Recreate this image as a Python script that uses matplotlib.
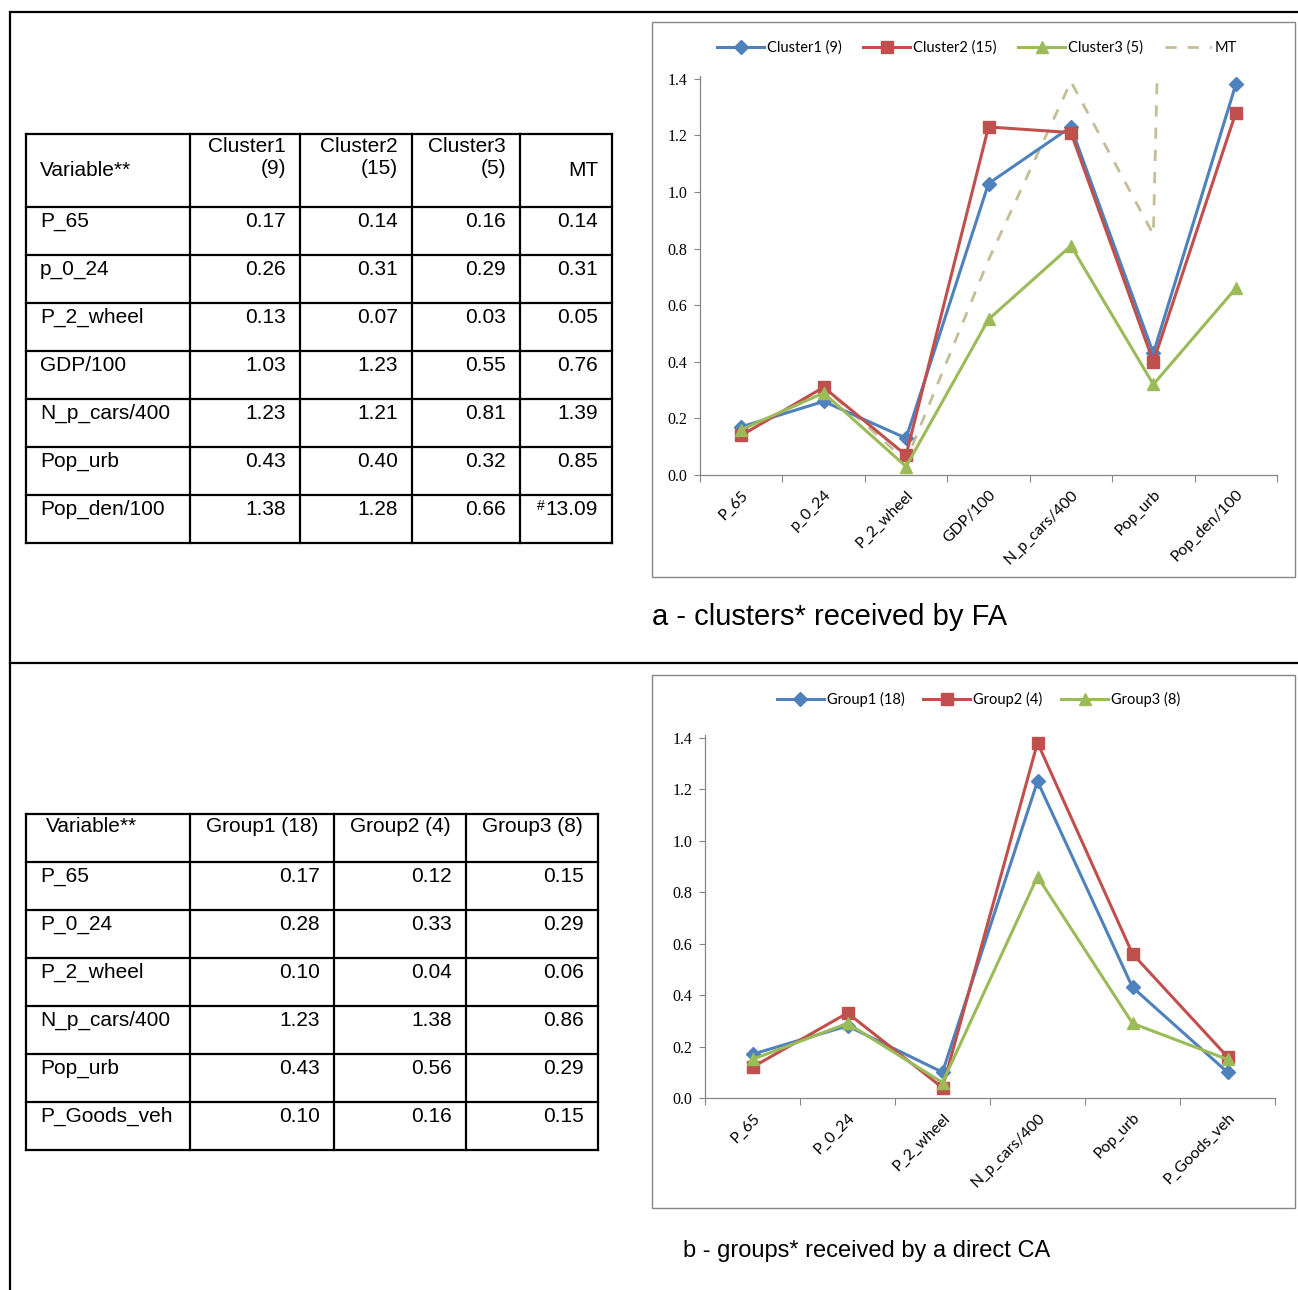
import matplotlib
matplotlib.use("Agg")
import matplotlib.pyplot as plt
from matplotlib.patches import Rectangle
from matplotlib.ticker import FixedLocator, FormatStrFormatter

W, H = 1298, 1290

# ---- data: panel a (clusters from FA) ----
vars_a = ["P_65", "p_0_24", "P_2_wheel", "GDP/100", "N_p_cars/400", "Pop_urb", "Pop_den/100"]
cluster1 = [0.17, 0.26, 0.13, 1.03, 1.23, 0.43, 1.38]
cluster2 = [0.14, 0.31, 0.07, 1.23, 1.21, 0.40, 1.28]
cluster3 = [0.16, 0.29, 0.03, 0.55, 0.81, 0.32, 0.66]
mt = [0.14, 0.31, 0.05, 0.76, 1.39, 0.85, 13.09]
heads_a = ["Cluster1\n(9)", "Cluster2\n(15)", "Cluster3\n(5)", "MT"]
names_a = ["Cluster1 (9)", "Cluster2 (15)", "Cluster3 (5)", "MT"]

# ---- data: panel b (groups from direct CA) ----
vars_b = ["P_65", "P_0_24", "P_2_wheel", "N_p_cars/400", "Pop_urb", "P_Goods_veh"]
group1 = [0.17, 0.28, 0.10, 1.23, 0.43, 0.10]
group2 = [0.12, 0.33, 0.04, 1.38, 0.56, 0.16]
group3 = [0.15, 0.29, 0.06, 0.86, 0.29, 0.15]
heads_b = ["Group1 (18)", "Group2 (4)", "Group3 (8)"]
names_b = ["Group1 (18)", "Group2 (4)", "Group3 (8)"]

BLUE, RED, GREEN, TAN = "#4F81BD", "#C0504D", "#9BBB59", "#C4BD97"
GRAY = "#868686"
SANS = ["Liberation Sans", "DejaVu Sans"]
CHART = ["Lato", "DejaVu Sans"]
SERIF = ["Liberation Serif", "DejaVu Serif"]

fig = plt.figure(figsize=(W / 100, H / 100), dpi=100)
canvas = fig.add_axes([0, 0, 1, 1])
canvas.set_xlim(0, W)
canvas.set_ylim(H, 0)
canvas.axis("off")


def ax_rect(x0, y0, x1, y1):
    return [x0 / W, 1 - y1 / H, (x1 - x0) / W, (y1 - y0) / H]


# outer frame
canvas.plot([10, W], [12, 12], color="black", lw=1.6)
canvas.plot([10, 10], [12, H], color="black", lw=1.6)
canvas.plot([10, W], [663, 663], color="black", lw=1.6)


def grid_lines(x_cols, y_rows):
    for y in y_rows:
        canvas.plot([x_cols[0], x_cols[-1]], [y, y], color="black", lw=1.6)
    for x in x_cols:
        canvas.plot([x, x], [y_rows[0], y_rows[-1]], color="black", lw=1.6)


def cell_value(x, y, value, mark=False):
    t = canvas.text(x, y, f"{value:.2f}", fontsize=15, family=SANS, va="top", ha="right")
    if mark:
        # value outside the plotted range gets a # in front
        canvas.annotate("#", xy=(0, 1), xycoords=t, xytext=(-1, 1), textcoords="offset points",
                        fontsize=10, family=SANS, ha="right", va="top")


# ---- table a ----
xa_cols = [26, 190, 300, 412, 520, 612]
ya_rows = [134, 207] + [207 + 48 * (i + 1) for i in range(len(vars_a))]
grid_lines(xa_cols, ya_rows)
canvas.text(xa_cols[0] + 14, 161, "Variable**", fontsize=15, family=SANS, va="top")
for j, h in enumerate(heads_a):
    yy = 137 if "\n" in h else 161
    canvas.text(xa_cols[j + 2] - 14, yy, h, fontsize=15, family=SANS, va="top",
                ha="right", multialignment="right", linespacing=1.2)
for i, name in enumerate(vars_a):
    yy = ya_rows[i + 1] + 5
    canvas.text(xa_cols[0] + 14, yy, name, fontsize=15, family=SANS, va="top")
    for j, col in enumerate([cluster1, cluster2, cluster3, mt]):
        cell_value(xa_cols[j + 2] - 14, yy, col[i], mark=(col is mt and col[i] > 1.4))

# ---- table b ----
xb_cols = [26, 190, 334, 466, 598]
yb_rows = [814, 862] + [862 + 48 * (i + 1) for i in range(len(vars_b))]
grid_lines(xb_cols, yb_rows)
canvas.text(xb_cols[0] + 20, 817, "Variable**", fontsize=15, family=SANS, va="top")
for j, h in enumerate(heads_b):
    canvas.text((xb_cols[j + 1] + xb_cols[j + 2]) / 2, 817, h, fontsize=15, family=SANS,
                va="top", ha="center")
for i, name in enumerate(vars_b):
    yy = yb_rows[i + 1] + 5
    canvas.text(xb_cols[0] + 14, yy, name, fontsize=15, family=SANS, va="top")
    for j, col in enumerate([group1, group2, group3]):
        cell_value(xb_cols[j + 2] - 14, yy, col[i])


def style_chart(ax, labels, box):
    n = len(labels)
    ax.set_xlim(0, n)
    ax.set_ylim(0, 1.41)
    for s in ["top", "right"]:
        ax.spines[s].set_visible(False)
    for s in ["left", "bottom"]:
        ax.spines[s].set_color(GRAY)
        ax.spines[s].set_linewidth(0.9)
    ax.xaxis.set_major_locator(FixedLocator(range(n + 1)))
    ax.xaxis.set_minor_locator(FixedLocator([i + 0.5 for i in range(n)]))
    ax.set_xticklabels([], minor=False)
    ax.set_xticklabels(labels, minor=True, rotation=45, ha="right", rotation_mode="anchor",
                       family=CHART, fontsize=11.3)
    ax.tick_params(axis="x", which="major", direction="out", length=5, color=GRAY)
    ax.tick_params(axis="x", which="minor", length=0, pad=9)
    ax.yaxis.set_major_locator(FixedLocator([0, 0.2, 0.4, 0.6, 0.8, 1.0, 1.2, 1.4]))
    ax.yaxis.set_major_formatter(FormatStrFormatter("%.1f"))
    ax.tick_params(axis="y", direction="out", length=4, color=GRAY, labelsize=11.5, pad=5)
    for t in ax.get_yticklabels():
        t.set_family(SERIF)
    x0, y0, x1, y1 = box
    fig.add_artist(Rectangle((x0 / W, 1 - y1 / H), (x1 - x0) / W, (y1 - y0) / H,
                             transform=fig.transFigure, fill=False, ec=GRAY, lw=1.0))


# ---- chart a ----
ax1 = fig.add_axes(ax_rect(700, 76, 1277, 475))
xa = [i + 0.5 for i in range(len(vars_a))]
# MT runs off the top at Pop_den/100 and is clipped by the axes
ax1.plot(xa, mt, color=TAN, lw=2, ls=(0, (4, 4)), label=names_a[3], zorder=1)
ax1.plot(xa, cluster1, color=BLUE, lw=2.2, marker="D", ms=7, label=names_a[0], zorder=2)
ax1.plot(xa, cluster2, color=RED, lw=2.2, marker="s", ms=8, label=names_a[1], zorder=3)
ax1.plot(xa, cluster3, color=GREEN, lw=2.2, marker="^", ms=8, label=names_a[2], zorder=4)
style_chart(ax1, vars_a, (652, 22, 1295, 577))
h, l = ax1.get_legend_handles_labels()
order = [1, 2, 3, 0]
ax1.legend([h[i] for i in order], [l[i] for i in order], ncol=4, loc="lower center",
           bbox_to_anchor=(0.48, 1.02), frameon=False, handlelength=3.2, handletextpad=0.2,
           columnspacing=1.5, prop={"family": CHART, "size": 10.5})
fig.text(652 / W, 1 - 617 / H, "a - clusters* received by FA", fontsize=21, family=SANS,
         va="center", ha="left")

# ---- chart b ----
ax2 = fig.add_axes(ax_rect(705, 735, 1275, 1098))
xb = [i + 0.5 for i in range(len(vars_b))]
ax2.plot(xb, group1, color=BLUE, lw=2.2, marker="D", ms=7, label=names_b[0])
ax2.plot(xb, group2, color=RED, lw=2.2, marker="s", ms=8, label=names_b[1])
ax2.plot(xb, group3, color=GREEN, lw=2.2, marker="^", ms=8, label=names_b[2])
style_chart(ax2, vars_b, (652, 675, 1295, 1208))
ax2.legend(ncol=3, loc="lower center", bbox_to_anchor=(0.48, 1.04), frameon=False,
           handlelength=3.2, handletextpad=0.2, columnspacing=1.3,
           prop={"family": CHART, "size": 10.5})
fig.text(683 / W, 1 - 1251 / H, "b - groups* received by a direct CA", fontsize=17,
         family=SANS, va="center", ha="left")

fig.savefig("out.png", dpi=100)
